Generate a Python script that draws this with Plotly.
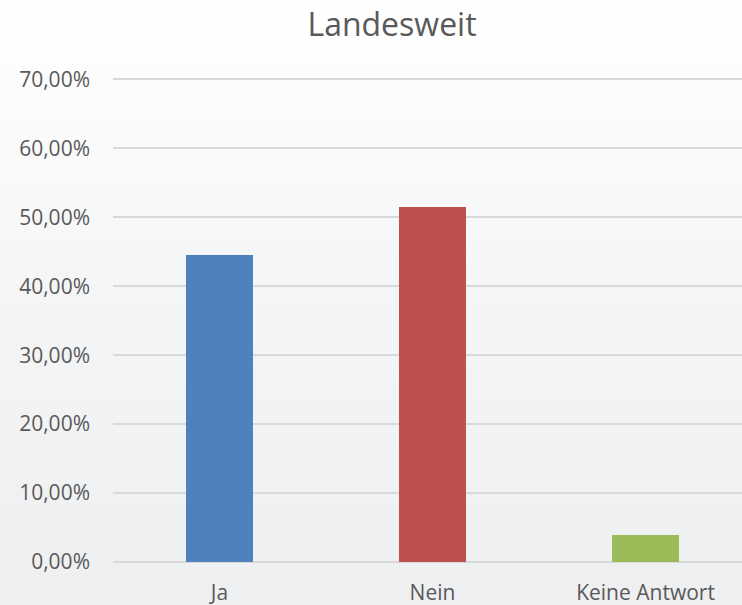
import plotly.graph_objects as go

categories = ["Ja", "Nein", "Keine Antwort"]
values = [0.4455, 0.5150, 0.0395]
colors = ["#4F81BD", "#C0504D", "#9BBB59"]
y_ticks = [0, 0.1, 0.2, 0.3, 0.4, 0.5, 0.6, 0.7]

fig = go.Figure()
fig.add_trace(go.Bar(
    x=categories, y=values, marker=dict(color=colors, line=dict(width=0)),
    width=0.315, hoverinfo="skip"
))

fig.update_layout(
    width=742, height=605,
    margin=dict(l=113, r=0, t=78, b=43),
    separators=",.",
    paper_bgcolor="rgba(0,0,0,0)",
    plot_bgcolor="rgba(0,0,0,0)",
    showlegend=False,
    font=dict(family="Open Sans, DejaVu Sans, sans-serif", color="#595959"),
    title=dict(text="Landesweit", x=392/742, xref="container", xanchor="center",
               y=1 - 25/605, yref="container", yanchor="middle",
               font=dict(size=32, color="#595959")),
    bargap=0,
    xaxis=dict(range=[-0.5, 2.453], showgrid=False, showline=False, ticks="",
               ticklabelstandoff=16,
               tickfont=dict(size=21, color="#595959"), fixedrange=True),
    yaxis=dict(range=[0, 0.702], tickvals=y_ticks, tickformat=".2%",
               showgrid=True, gridcolor="#D9D9D9", gridwidth=1.5,
               zeroline=True, zerolinecolor="#D9D9D9", zerolinewidth=1.5,
               showline=False, ticks="", ticklabelstandoff=22,
               tickfont=dict(size=21, color="#595959"), fixedrange=True),
)

post = (
    "document.body.style.margin='0';"
    "var gd=document.getElementById('{plot_id}');"
    "gd.style.background='linear-gradient(to bottom, #FFFFFF 0%, #F4F5F6 50%, #EEEFF1 100%)';"
)
fig.write_html("out.html", post_script=post, config={"displayModeBar": False})
